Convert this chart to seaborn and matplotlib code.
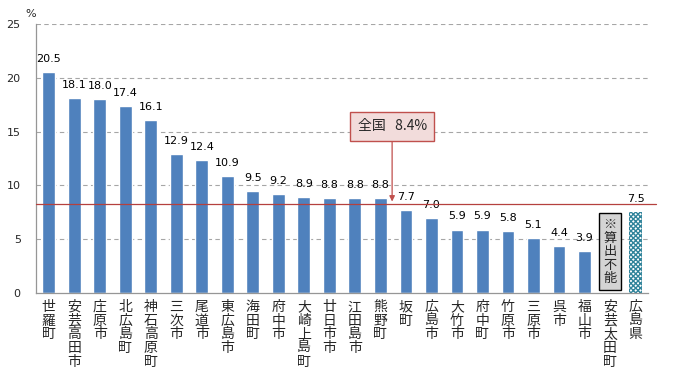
import numpy as np
import pandas as pd
import matplotlib
matplotlib.use("Agg")
import matplotlib.pyplot as plt
import seaborn as sns

# ==============================
# DATA
# ==============================
areas = ["世羅町", "安芸高田市", "庄原市", "北広島町", "神石高原町", "三次市", "尾道市",
         "東広島市", "海田町", "府中市", "大崎上島町", "廿日市市", "江田島市", "熊野町",
         "坂町", "広島市", "大竹市", "府中町", "竹原市", "三原市", "呉市", "福山市",
         "安芸太田町", "広島県"]
rates = [20.5, 18.1, 18.0, 17.4, 16.1, 12.9, 12.4, 10.9, 9.5, 9.2, 8.9, 8.8, 8.8, 8.8,
         7.7, 7.0, 5.9, 5.9, 5.8, 5.1, 4.4, 3.9, np.nan, 7.5]
national_rate = 8.4
national_label = "全国   8.4%"
missing_note = "※算出不能"
yticks = [0, 5, 10, 15, 20, 25]

# ==============================
# PLOT
# ==============================
sns.set_theme(style="white")
plt.rcParams['font.family'] = ['Noto Sans CJK JP', 'DejaVu Sans']

df = pd.DataFrame({"area": areas, "rate": rates})
n = len(df)

fig = plt.figure(figsize=(6.78, 3.74), dpi=100)
ax = fig.add_axes([0.0531, 0.2166, 0.903, 0.7192])

sns.barplot(data=df, x="area", y="rate", color="#4f81bd", width=0.5,
            saturation=1, ax=ax, errorbar=None, order=areas)

# prefecture bar: checkered teal
for p in ax.patches:
    if p.get_x() > n - 1.6:
        p.set_facecolor("white")
        p.set_edgecolor("#31849b")
        p.set_hatch("xxxxxxx")
        p.set_linewidth(0)

# value labels
for i, v in enumerate(rates):
    if not np.isnan(v):
        ax.text(i, v + 0.75, f"{v:.1f}", ha="center", va="bottom", fontsize=8,
                family=['DejaVu Sans'], color="black")

ax.set_xlim(-0.5, n - 0.5)
ax.set_ylim(0, 25)
ax.set_yticks(yticks)
ax.set_yticklabels([str(t) for t in yticks], fontsize=8, family=['DejaVu Sans'])
ax.set_xticks(range(n))
ax.set_xticklabels(["\n".join(a) for a in areas], fontsize=10, linespacing=0.98,
                   va="top")
ax.set_xlabel("")
ax.set_ylabel("")
ax.tick_params(axis="x", length=0, pad=5)
ax.tick_params(axis="y", length=0, pad=11)
ax.set_xticks(np.arange(-0.5, n, 1.0), minor=True)
ax.tick_params(axis="x", which="minor", direction="in", length=3, color="#a0a0a0")

for y in yticks[1:]:
    ax.axhline(y, color="#a6a6a6", linestyle=(0, (4, 3)), linewidth=0.8, zorder=0)

for s in ["top", "right"]:
    ax.spines[s].set_visible(False)
for s in ["left", "bottom"]:
    ax.spines[s].set_color("#969696")
    ax.spines[s].set_linewidth(0.9)

# national average line + callout
ax.axhline(national_rate - 0.15, xmin=0, xmax=1.012, color="#b5403e", linewidth=0.9,
           clip_on=False, zorder=3)
ax.annotate(national_label, xy=(13.46, national_rate + 0.1), xytext=(13.46, 15.5),
            ha="center", va="center", fontsize=10,
            bbox=dict(boxstyle="square,pad=0.55", facecolor="#f2dcdb",
                      edgecolor="#c0504d", linewidth=1),
            arrowprops=dict(arrowstyle="-|>", color="#c0504d", linewidth=0.9,
                            mutation_scale=8, shrinkA=0, shrinkB=0))

# not computable note
ax.text(n - 2, 3.85, "\n".join(missing_note), ha="center", va="center", fontsize=9.5,
        linespacing=1.05,
        bbox=dict(boxstyle="square,pad=0.35", facecolor="#d4d4d4",
                  edgecolor="black", linewidth=1))

fig.text(0.037, 0.955, "%", fontsize=8, family=['DejaVu Sans'])

fig.savefig("out.png", dpi=100)
